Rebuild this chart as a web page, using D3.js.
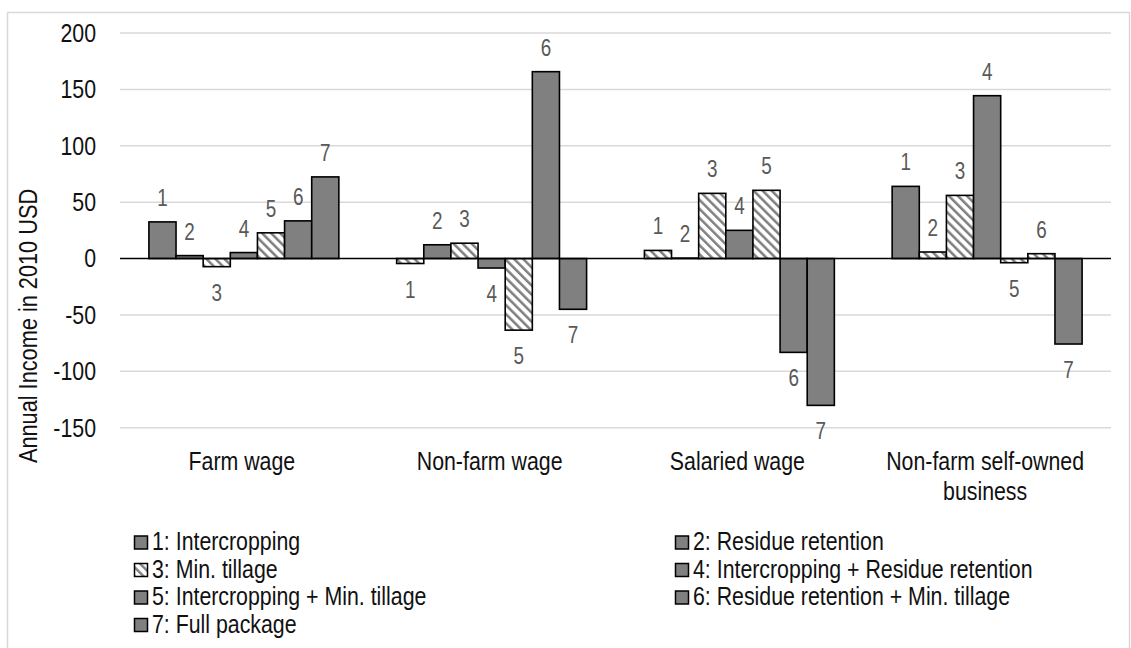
<!DOCTYPE html>
<html>
<head>
<meta charset="utf-8">
<script src="https://cdn.jsdelivr.net/npm/d3@7"></script>
<style>
    body { margin: 0; background: #fff; }
    #chart-area svg { display: block; font-family: "Liberation Sans", Arial, sans-serif; }
</style>
</head>
<body>
<div id="chart-area"></div>
<script>

// income sources on the x axis
var categories = ["Farm wage", "Non-farm wage", "Salaried wage", "Non-farm self-owned business"];

// CSA strategies (one bar per strategy in each group)
var strategies = [
    "1: Intercropping",
    "2: Residue retention",
    "3: Min. tillage",
    "4: Intercropping + Residue retention",
    "5: Intercropping + Min. tillage",
    "6: Residue retention + Min. tillage",
    "7: Full package"
];

// annual income effect, 2010 USD
var farmWage          = [32.5, 2.6, -7.2, 5.3, 22.8, 33.4, 72.4];
var nonFarmWage       = [-4.4, 12.2, 13.6, -8.4, -63.5, 165.7, -45.0];
var salariedWage      = [7.2, 0.4, 57.8, 25.0, 60.5, -83.2, -130.2];
var selfOwnedBusiness = [64.0, 5.8, 56.0, 144.4, -3.7, 4.3, -75.8];

// 1 = estimate drawn hatched in the figure (not significant)
var nsFarmWage          = [0, 0, 1, 0, 1, 0, 0];
var nsNonFarmWage       = [1, 0, 1, 0, 1, 0, 0];
var nsSalariedWage      = [1, 0, 1, 0, 1, 0, 0];
var nsSelfOwnedBusiness = [0, 1, 1, 0, 1, 1, 0];

// legend entry drawn with the hatch swatch
var legendHatched = [0, 0, 1, 0, 0, 0, 0];

var yTicks = [-150, -100, -50, 0, 50, 100, 150, 200];

// no narrow font installed: squeeze the regular one
var NARROW = 0.82;


IncomeChart = function(_parentElement) {
    this.parentElement = _parentElement;
    this.displayData = [];

    this.initVis();
}

/*
 * Initialize visualization (static content; frame, scales, axes, legend)
 */
IncomeChart.prototype.initVis = function() {
    var vis = this;

    vis.width = 1131;
    vis.height = 648;
    vis.plot = { left: 120, right: 1111, top: 33, bottom: 427.7 };

    vis.svg = d3.select("#" + vis.parentElement).append("svg")
        .attr("width", vis.width)
        .attr("height", vis.height);

    vis.svg.append("rect")
        .attr("width", vis.width)
        .attr("height", vis.height)
        .attr("fill", "#fff");

    // chart frame
    vis.svg.append("rect")
        .attr("x", 7.5)
        .attr("y", 12.5)
        .attr("width", 1122)
        .attr("height", 660)
        .attr("fill", "none")
        .attr("stroke", "#d9d9d9")
        .attr("stroke-width", 1.5);

    /*** HATCH PATTERN */
    var defs = vis.svg.append("defs");
    var pat = defs.append("pattern")
        .attr("id", "hatch")
        .attr("patternUnits", "userSpaceOnUse")
        .attr("width", 6.4)
        .attr("height", 6.4)
        .attr("patternTransform", "rotate(-45)");
    pat.append("rect").attr("width", 6.4).attr("height", 6.4).attr("fill", "#fff");
    pat.append("rect").attr("width", 2.5).attr("height", 6.4).attr("fill", "#808080");

    /*** CREATE SCALES */
    vis.x0 = d3.scaleBand()
        .domain(categories)
        .range([vis.plot.left, vis.plot.right]);

    vis.x1 = d3.scaleBand()
        .domain(d3.range(strategies.length))
        .range([0, vis.x0.bandwidth()])
        .paddingOuter(1.065);

    vis.y = d3.scaleLinear()
        .domain([-150, 200])
        .range([vis.plot.bottom, vis.plot.top]);

    // gridlines
    vis.svg.append("g")
        .selectAll("line")
        .data(yTicks.filter(function(d) { return d !== 0; }))
        .enter()
        .append("line")
        .attr("x1", vis.plot.left)
        .attr("x2", vis.plot.right)
        .attr("y1", function(d) { return vis.y(d); })
        .attr("y2", function(d) { return vis.y(d); })
        .attr("stroke", "#d9d9d9")
        .attr("stroke-width", 1.5);

    // y axis labels (plain hyphen for negatives, like the original)
    vis.yAxis = d3.axisLeft(vis.y)
        .tickValues(yTicks)
        .tickFormat(function(d) { return String(d); })
        .tickSize(0)
        .tickPadding(24);

    vis.svg.append("g")
        .attr("class", "y-axis")
        .attr("transform", "translate(" + vis.plot.left + ",0)")
        .call(vis.yAxis)
        .call(function(g) { g.select(".domain").remove(); })
        .selectAll("text")
        .attr("font-family", null)
        .style("font-size", "26px")
        .attr("fill", "#111")
        .call(narrow);

    vis.svg.append("text")
        .attr("transform", "translate(37,326) rotate(-90)")
        .attr("text-anchor", "middle")
        .style("font-size", "26.5px")
        .attr("fill", "#111")
        .text("Annual Income in 2010 USD")
        .call(narrow);

    // category labels (wrapped onto lines when too wide)
    categories.forEach(function(c) {
        var lines = wrapLines(c, vis.x0.bandwidth() - 20, "26px");
        vis.svg.append("g")
            .selectAll("text")
            .data(lines)
            .enter()
            .append("text")
            .attr("x", vis.x0(c) + vis.x0.bandwidth() / 2 - 2)
            .attr("y", function(d, i) { return 470 + i * 30; })
            .attr("text-anchor", "middle")
            .style("font-size", "26px")
            .attr("fill", "#111")
            .text(function(d) { return d; })
            .call(narrow);
    });

    /*** LEGEND */
    var legend = vis.svg.append("g").attr("class", "legend");
    var item = legend.selectAll("g")
        .data(strategies)
        .enter()
        .append("g")
        .attr("transform", function(d, i) {
            return "translate(" + (i % 2 === 0 ? 134 : 675) + "," + (550 + Math.floor(i / 2) * 27.5) + ")";
        });

    item.append("rect")
        .attr("x", 0.5)
        .attr("y", -14)
        .attr("width", 13)
        .attr("height", 13)
        .attr("fill", function(d, i) { return legendHatched[i] ? "url(#hatch)" : "#808080"; })
        .attr("stroke", "#000")
        .attr("stroke-width", 1.5);

    item.append("text")
        .attr("x", 18)
        .style("font-size", "26px")
        .attr("fill", "#111")
        .text(function(d) { return d; })
        .call(narrow);

    vis.wrangleData();
}

IncomeChart.prototype.wrangleData = function() {
    var vis = this;

    var series = [farmWage, nonFarmWage, salariedWage, selfOwnedBusiness];
    var hatched = [nsFarmWage, nsNonFarmWage, nsSalariedWage, nsSelfOwnedBusiness];

    var tempArray = [];
    categories.forEach(function(c, ci) {
        series[ci].forEach(function(v, si) {
            tempArray.push({ Category: c, Strategy: si, Value: v, Hatched: hatched[ci][si] === 1 });
        });
    });

    vis.displayData = tempArray;

    vis.updateVis();
}

IncomeChart.prototype.updateVis = function() {
    var vis = this;

    var groups = vis.svg.append("g").attr("class", "bars");

    groups.selectAll(".bar")
        .data(vis.displayData)
        .enter()
        .append("rect")
        .attr("class", "bar")
        .attr("x", function(d) { return vis.x0(d.Category) + vis.x1(d.Strategy); })
        .attr("width", vis.x1.bandwidth())
        .attr("y", function(d) { return vis.y(Math.max(0, d.Value)); })
        .attr("height", function(d) { return Math.abs(vis.y(d.Value) - vis.y(0)); })
        .attr("fill", function(d) { return d.Hatched ? "url(#hatch)" : "#808080"; })
        .attr("stroke", "#000")
        .attr("stroke-width", 1.6);

    // zero line on top of the bars
    vis.svg.append("line")
        .attr("x1", vis.plot.left)
        .attr("x2", vis.plot.right)
        .attr("y1", vis.y(0))
        .attr("y2", vis.y(0))
        .attr("stroke", "#000")
        .attr("stroke-width", 1.6);

    // strategy number labels above / below each bar
    groups.selectAll(".bar-label")
        .data(vis.displayData)
        .enter()
        .append("text")
        .attr("class", "bar-label")
        .attr("x", function(d) { return vis.x0(d.Category) + vis.x1(d.Strategy) + vis.x1.bandwidth() / 2; })
        .attr("y", function(d) { return d.Value >= 0 ? vis.y(d.Value) - 16 : vis.y(d.Value) + 34; })
        .attr("text-anchor", "middle")
        .style("font-size", "23px")
        .attr("fill", "#595959")
        .text(function(d) { return d.Strategy + 1; })
        .call(narrow);
}

// squeeze text horizontally to mimic Arial Narrow
function narrow(sel) {
    sel.each(function() {
        var len = this.getComputedTextLength();
        d3.select(this)
            .attr("textLength", len * NARROW)
            .attr("lengthAdjust", "spacingAndGlyphs");
    });
}

// split a label into lines that fit maxWidth (after narrowing)
function wrapLines(label, maxWidth, size) {
    var probe = d3.select("svg").append("text").style("font-size", size);
    var words = label.split(" "), lines = [], line = [];
    words.forEach(function(w) {
        line.push(w);
        probe.text(line.join(" "));
        if (probe.node().getComputedTextLength() * NARROW > maxWidth && line.length > 1) {
            line.pop();
            lines.push(line.join(" "));
            line = [w];
        }
    });
    lines.push(line.join(" "));
    probe.remove();
    return lines;
}

var chart = new IncomeChart("chart-area");

</script>
</body>
</html>
